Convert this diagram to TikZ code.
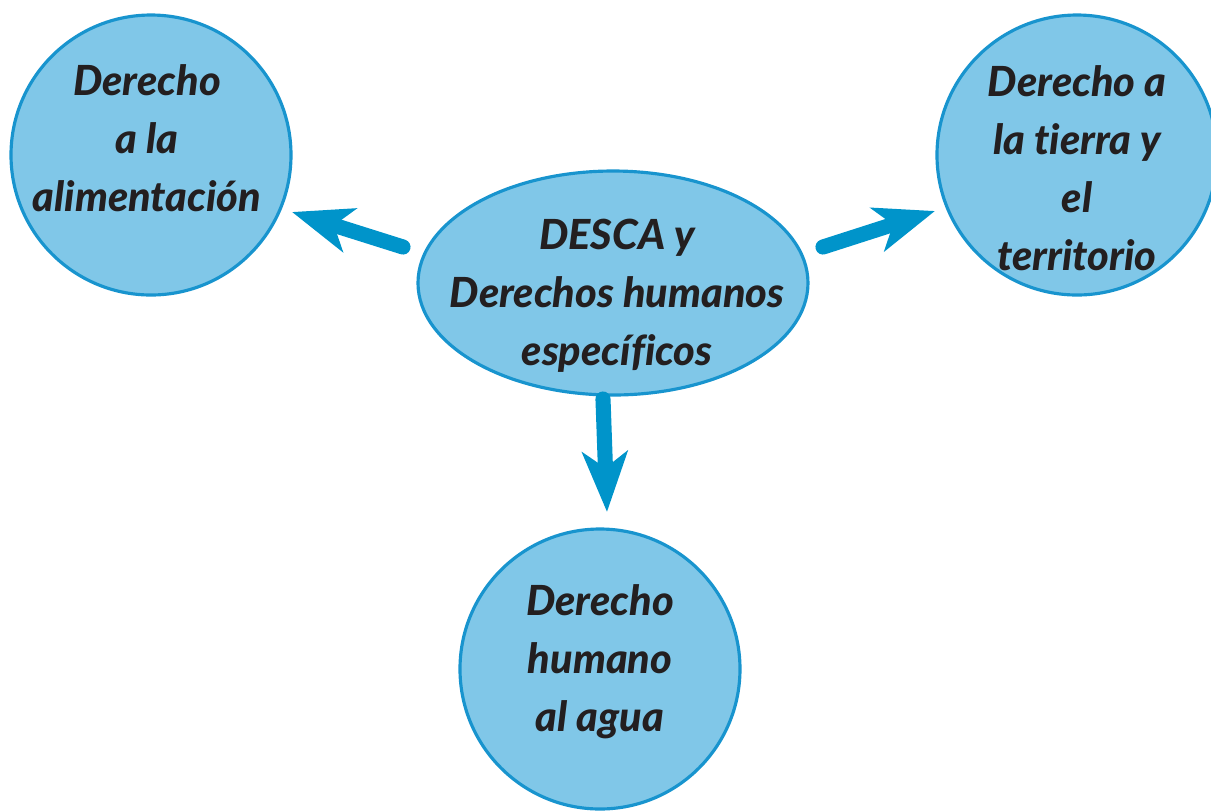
\documentclass[tikz,border=0pt]{standalone}
\usepackage{fontspec}
\setmainfont{Lato}[Ligatures=NoCommon,BoldItalicFont={Lato Black Italic}]
\usetikzlibrary{arrows.meta,shapes.geometric,calc}
\definecolor{fillblue}{RGB}{128,199,232}
\definecolor{edgeblue}{RGB}{24,148,206}
\definecolor{arrowblue}{RGB}{0,148,202}
\definecolor{txt}{RGB}{35,31,32}
\tikzset{
  bubble/.style={circle,draw=edgeblue,line width=0.9pt,fill=fillblue,minimum size=2.8cm,inner sep=0pt},
  oval/.style={ellipse,draw=edgeblue,line width=0.9pt,fill=fillblue,minimum width=3.9cm,minimum height=2.24cm,inner sep=0pt},
  lbl/.style={text=txt,font=\fontsize{11.8}{16.5}\selectfont\bfseries\itshape,align=center,inner sep=0pt},
  bigarrow/.style={draw=arrowblue,line width=4.3pt,line cap=round,-{Stealth[length=0.6cm,width=0.45cm,inset=0.16cm]}}
}
\begin{document}
\begin{tikzpicture}[x=1cm,y=1cm]
\useasboundingbox (0,0) rectangle (12.11,-8.10);
\node[bubble] (l) at (1.51,-1.55) {};
\node[bubble] (r) at (10.77,-1.55) {};
\node[bubble] (b) at (6.00,-6.69) {};
\node[oval] (c) at (6.13,-2.83) {};
\node[lbl] (lt) at (1.47,-1.385) {Derecho\\a la\\alimentación};
\node[lbl] (rt) at (10.77,-1.68) {Derecho a\\la tierra y\\el\\territorio};
\node[lbl] (bt) at (6.00,-6.62) {Derecho\\humano\\al agua};
\node[lbl] (ct) at (6.17,-2.955) {DESCA y\\Derechos humanos\\específicos};
\coordinate (ls) at (4.03,-2.47);
\coordinate (le) at (2.92,-2.12);
\coordinate (rs) at (8.23,-2.47);
\coordinate (re) at (9.35,-2.11);
\coordinate (bs) at (6.03,-3.99);
\coordinate (be) at (6.07,-5.12);
\draw[bigarrow] (ls) -- (le);
\draw[bigarrow] (rs) -- (re);
\draw[bigarrow] (bs) -- (be);
\end{tikzpicture}
\end{document}
